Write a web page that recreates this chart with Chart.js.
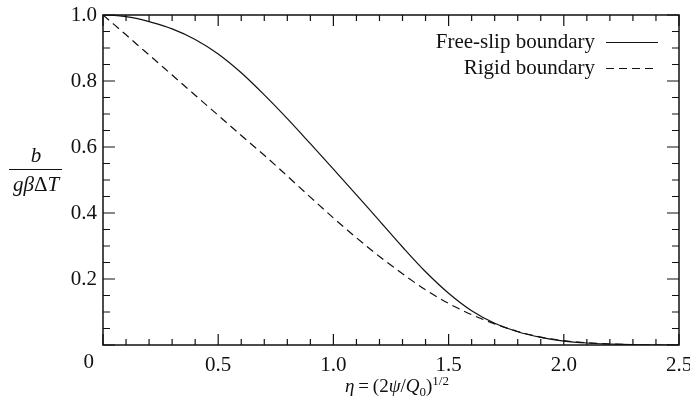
<!DOCTYPE html>
<html>
<head>
<meta charset="utf-8">
<script src="https://cdn.jsdelivr.net/npm/chart.js@4.4.1/dist/chart.umd.min.js"></script>
<style>
  html, body { margin: 0; padding: 0; background: #fff; }
  #wrap { width: 690px; height: 408px; }
</style>
</head>
<body>
<div id="wrap"><canvas id="chart" width="690" height="408"></canvas></div>
<script>
// values
const eta = [0, 0.05, 0.1, 0.15, 0.2, 0.3, 0.4, 0.5, 0.6, 0.7, 0.8, 0.9, 1.0, 1.1, 1.2, 1.3, 1.4, 1.5, 1.6, 1.7, 1.8, 1.9, 2.0, 2.1, 2.2, 2.3, 2.4, 2.5]
const freeSlip = [1.0, 0.999, 0.995, 0.989, 0.98, 0.958, 0.926, 0.882, 0.825, 0.758, 0.686, 0.61, 0.533, 0.455, 0.376, 0.297, 0.222, 0.157, 0.104, 0.066, 0.04, 0.023, 0.012, 0.006, 0.003, 0.001, 0, 0]
const rigid = [1.0, 0.97, 0.94, 0.909, 0.879, 0.818, 0.757, 0.696, 0.635, 0.575, 0.512, 0.448, 0.385, 0.325, 0.268, 0.216, 0.167, 0.126, 0.092, 0.064, 0.041, 0.024, 0.013, 0.007, 0.003, 0.001, 0, 0]
const seriesNames = ['Free-slip boundary', 'Rigid boundary']
const xTicks = [0.5, 1.0, 1.5, 2.0, 2.5]
const yTicks = [0.2, 0.4, 0.6, 0.8, 1.0]

const serif = '"Liberation Serif", "Times New Roman", serif'
const ink = '#111'
const fs = 21

const toPoints = (ys) => eta.map((x, i) => ({ x, y: ys[i] }))

// frame, inward ticks on all sides, corner "0", axis titles, legend
const decorations = {
  id: 'decorations',
  afterDraw(chart) {
    const { ctx, chartArea: a, scales } = chart
    const xs = scales.x
    const ys = scales.y
    ctx.save()
    ctx.strokeStyle = ink
    ctx.lineWidth = 1.5
    ctx.strokeRect(a.left, a.top, a.right - a.left, a.bottom - a.top)

    ctx.lineWidth = 1.2
    ctx.beginPath()
    for (let i = 0; i <= 25; i++) {
      const px = xs.getPixelForValue(i / 10)
      const len = i % 5 === 0 ? 11 : 6
      ctx.moveTo(px, a.bottom); ctx.lineTo(px, a.bottom - len)
      ctx.moveTo(px, a.top); ctx.lineTo(px, a.top + len)
    }
    for (let i = 0; i <= 20; i++) {
      const py = ys.getPixelForValue(i / 20)
      const len = i % 4 === 0 ? 12 : 7
      ctx.moveTo(a.left, py); ctx.lineTo(a.left + len, py)
      ctx.moveTo(a.right, py); ctx.lineTo(a.right - len, py)
    }
    ctx.stroke()

    ctx.fillStyle = ink
    ctx.font = `${fs}px ${serif}`
    ctx.textAlign = 'right'
    ctx.textBaseline = 'middle'
    ctx.fillText('0', a.left - 9, a.bottom + 17)

    // y title: b / gβΔT
    const cx = 36
    ctx.textAlign = 'center'
    ctx.textBaseline = 'alphabetic'
    ctx.font = `italic ${fs}px ${serif}`
    ctx.fillText('b', cx, 162)
    ctx.lineWidth = 1
    ctx.beginPath()
    ctx.moveTo(9, 169.5); ctx.lineTo(62, 169.5)
    ctx.stroke()
    drawRuns(ctx, [
      { t: 'g', f: `italic ${fs}px ${serif}` },
      { t: 'β', f: `italic ${fs}px ${serif}` },
      { t: 'Δ', f: `${fs}px ${serif}` },
      { t: 'T', f: `italic ${fs}px ${serif}` },
    ], cx, 191)

    // x title: η = (2ψ/Q0)^1/2
    const tf = 19
    drawRuns(ctx, [
      { t: 'η', f: `italic ${tf}px ${serif}` },
      { t: '\u2009=\u2009(2', f: `${tf}px ${serif}` },
      { t: 'ψ', f: `italic ${tf}px ${serif}` },
      { t: '/', f: `${tf}px ${serif}` },
      { t: 'Q', f: `italic ${tf}px ${serif}` },
      { t: '0', f: `13px ${serif}`, dy: 4 },
      { t: ')', f: `${tf}px ${serif}` },
      { t: '1/2', f: `13px ${serif}`, dy: -7 },
    ], 397, 392)

    // legend: label on the left, line sample on the right
    ctx.font = `${fs}px ${serif}`
    ctx.textAlign = 'right'
    ctx.textBaseline = 'middle'
    chart.data.datasets.forEach((ds, i) => {
      const y = 42 + i * 26
      ctx.fillText(ds.label, 595, y)
      ctx.lineWidth = 1.2
      ctx.setLineDash(ds.borderDash || [])
      ctx.beginPath()
      ctx.moveTo(606, y + 0.5); ctx.lineTo(658, y + 0.5)
      ctx.stroke()
      ctx.setLineDash([])
    })
    ctx.restore()
  },
}

function drawRuns(ctx, runs, cx, baseline) {
  let w = 0
  runs.forEach((r) => { ctx.font = r.f; r.w = ctx.measureText(r.t).width; w += r.w })
  let x = cx - w / 2
  ctx.textAlign = 'left'
  ctx.textBaseline = 'alphabetic'
  runs.forEach((r) => {
    ctx.font = r.f
    ctx.fillText(r.t, x, baseline + (r.dy || 0))
    x += r.w
  })
}

const ctx = document.getElementById('chart').getContext('2d')
new Chart(ctx, {
  type: 'line',
  data: {
    datasets: [
      {
        label: seriesNames[0],
        data: toPoints(freeSlip),
        borderColor: ink,
        borderWidth: 1.2,
        pointRadius: 0,
        cubicInterpolationMode: 'monotone',
        fill: false,
      },
      {
        label: seriesNames[1],
        data: toPoints(rigid),
        borderColor: ink,
        borderWidth: 1.2,
        borderDash: [8, 5],
        pointRadius: 0,
        cubicInterpolationMode: 'monotone',
        fill: false,
      },
    ],
  },
  options: {
    responsive: false,
    animation: false,
    devicePixelRatio: 1,
    layout: { padding: { left: 0, right: 11, top: 15, bottom: 0 } },
    plugins: { legend: { display: false }, tooltip: { enabled: false } },
    scales: {
      x: {
        type: 'linear',
        min: 0,
        max: 2.5,
        grid: { display: false, drawTicks: false },
        border: { display: false },
        ticks: {
          color: ink,
          padding: 8,
          maxRotation: 0,
          font: { family: serif, size: fs },
          callback: (v) => Number(v).toFixed(1),
        },
        afterBuildTicks: (s) => { s.ticks = xTicks.map((value) => ({ value })) },
        afterFit: (s) => { s.height = 63; s.paddingLeft = 0; s.paddingRight = 0 },
      },
      y: {
        min: 0,
        max: 1,
        grid: { display: false, drawTicks: false },
        border: { display: false },
        ticks: {
          color: ink,
          padding: 6,
          font: { family: serif, size: fs },
          callback: (v) => Number(v).toFixed(1),
        },
        afterBuildTicks: (s) => { s.ticks = yTicks.map((value) => ({ value })) },
        afterFit: (s) => { s.width = 103; s.paddingTop = 0; s.paddingBottom = 0 },
      },
    },
  },
  plugins: [decorations],
})
</script>
</body>
</html>
